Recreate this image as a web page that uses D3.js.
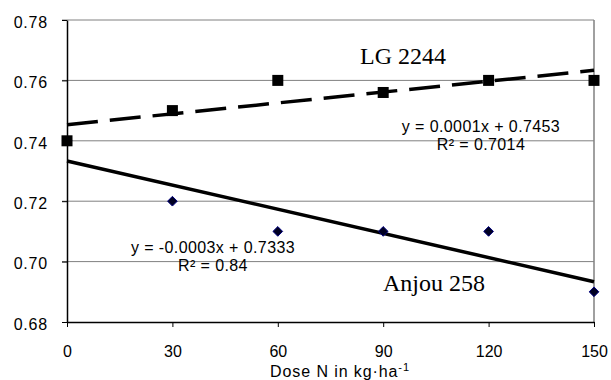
<!DOCTYPE html>
<html>
<head>
<meta charset="utf-8">
<script src="https://d3js.org/d3.v7.min.js"></script>
<style>
body{ margin:0; background:#fff; }
svg{ display:block; font-family:"Liberation Sans", Arial, sans-serif; }
</style>
</head>
<body>
<script>
// data
var doses = [0, 30, 60, 90, 120, 150];
var lgValues = [0.74, 0.75, 0.76, 0.756, 0.76, 0.76];
var anjouValues = [0.74, 0.72, 0.71, 0.71, 0.71, 0.69];   // first point sits under the LG square
var yTicks = [0.68, 0.70, 0.72, 0.74, 0.76, 0.78];
var xTicks = [0, 30, 60, 90, 120, 150];

var width = 611, height = 380;
// note: "top" is reserved on window, so use plot* names
var plotLeft = 67, plotRight = 594, plotTop = 20, plotBottom = 322;

var svg = d3.select("body").append("svg")
  .attr("width", width).attr("height", height);

var x = d3.scaleLinear().domain([0, 150]).range([plotLeft, plotRight]);
var y = d3.scaleLinear().domain([0.68, 0.78]).range([plotBottom, plotTop]);

// least squares trend line
function fit(xs, ys) {
  var mx = d3.mean(xs), my = d3.mean(ys);
  var sxy = d3.sum(xs, function(v, i){ return (v - mx) * (ys[i] - my); });
  var sxx = d3.sum(xs, function(v){ return (v - mx) * (v - mx); });
  var slope = sxy / sxx;
  return { slope: slope, intercept: my - slope * mx };
}

// horizontal grid
svg.append("g").selectAll("line")
  .data(yTicks.slice(1))
  .enter().append("line")
  .attr("x1", plotLeft - 5).attr("x2", plotRight)
  .attr("y1", function(d){ return y(d); }).attr("y2", function(d){ return y(d); })
  .attr("stroke", "#808080").attr("stroke-width", 1);

// right border
svg.append("line")
  .attr("x1", plotRight).attr("x2", plotRight).attr("y1", plotTop).attr("y2", plotBottom)
  .attr("stroke", "#808080").attr("stroke-width", 1.5);

// axes
var yAxis = svg.append("g")
  .attr("transform", "translate(" + plotLeft + ",0)")
  .call(d3.axisLeft(y).tickValues(yTicks).tickFormat(d3.format(".2f")).tickSize(5).tickSizeOuter(0));
var xAxis = svg.append("g")
  .attr("transform", "translate(0," + plotBottom + ")")
  .call(d3.axisBottom(x).tickValues(xTicks).tickSize(5).tickSizeOuter(0).tickPadding(12));

[yAxis, xAxis].forEach(function(ax){
  ax.select(".domain").attr("stroke", "#000").attr("stroke-width", 1.5);
  ax.selectAll(".tick line").attr("stroke", "#000");
  ax.selectAll("text").attr("font-size", 16).attr("fill", "#000")
    .attr("font-family", "Liberation Sans, Arial, sans-serif");
});
yAxis.selectAll(".tick text").attr("x", -19).attr("dy", "0.45em").attr("letter-spacing", 0.8);
xAxis.selectAll(".tick text").attr("dy", "0.71em").attr("y", 24);

// x axis title
var title = svg.append("text")
  .attr("x", 340).attr("y", 377)
  .attr("text-anchor", "middle")
  .attr("font-size", 16).attr("letter-spacing", 0.9);
title.append("tspan").text("Dose N in kg\u00b7ha");
title.append("tspan").attr("dy", -6).attr("font-size", 11).text("-1");

// trend lines
var lgFit = fit(doses, lgValues);
var anFit = fit(doses, anjouValues);

svg.append("line")
  .attr("x1", x(0)).attr("x2", x(150))
  .attr("y1", y(anFit.intercept)).attr("y2", y(anFit.intercept + anFit.slope * 150))
  .attr("stroke", "#000").attr("stroke-width", 3.5);

svg.append("line")
  .attr("x1", x(0)).attr("x2", x(150))
  .attr("y1", y(lgFit.intercept)).attr("y2", y(lgFit.intercept + lgFit.slope * 150))
  .attr("stroke", "#000").attr("stroke-width", 3.5)
  .attr("stroke-dasharray", "31,12");

// Anjou markers (diamonds)
svg.append("g").selectAll("path")
  .data(doses)
  .enter().append("path")
  .attr("d", d3.symbol().type(d3.symbolDiamond2).size(60))
  .attr("transform", function(d, i){ return "translate(" + x(d) + "," + y(anjouValues[i]) + ")"; })
  .attr("fill", "#000022").attr("stroke", "#000080").attr("stroke-width", 1);

// LG markers (squares)
svg.append("g").selectAll("rect")
  .data(doses)
  .enter().append("rect")
  .attr("x", function(d){ return x(d) - 5.5; })
  .attr("y", function(d, i){ return y(lgValues[i]) - 5.5; })
  .attr("width", 11).attr("height", 11)
  .attr("fill", "#000");

// series labels
svg.append("text").attr("x", 446).attr("y", 64)
  .attr("text-anchor", "end")
  .attr("font-family", "Liberation Serif, Times New Roman, serif").attr("font-size", 24)
  .text("LG 2244");
svg.append("text").attr("x", 383).attr("y", 291)
  .attr("font-family", "Liberation Serif, Times New Roman, serif").attr("font-size", 24)
  .text("Anjou 258");

// equations
function eqText(cx, cy, lines) {
  lines.forEach(function(t, i){
    svg.append("text").attr("x", cx).attr("y", cy + i * 18)
      .attr("text-anchor", "middle").attr("font-size", 16).attr("letter-spacing", 0.4).text(t);
  });
}
eqText(481, 132, ["y = 0.0001x + 0.7453", "R\u00b2 = 0.7014"]);
eqText(213, 253, ["y = -0.0003x + 0.7333", "R\u00b2 = 0.84"]);
</script>
</body>
</html>
